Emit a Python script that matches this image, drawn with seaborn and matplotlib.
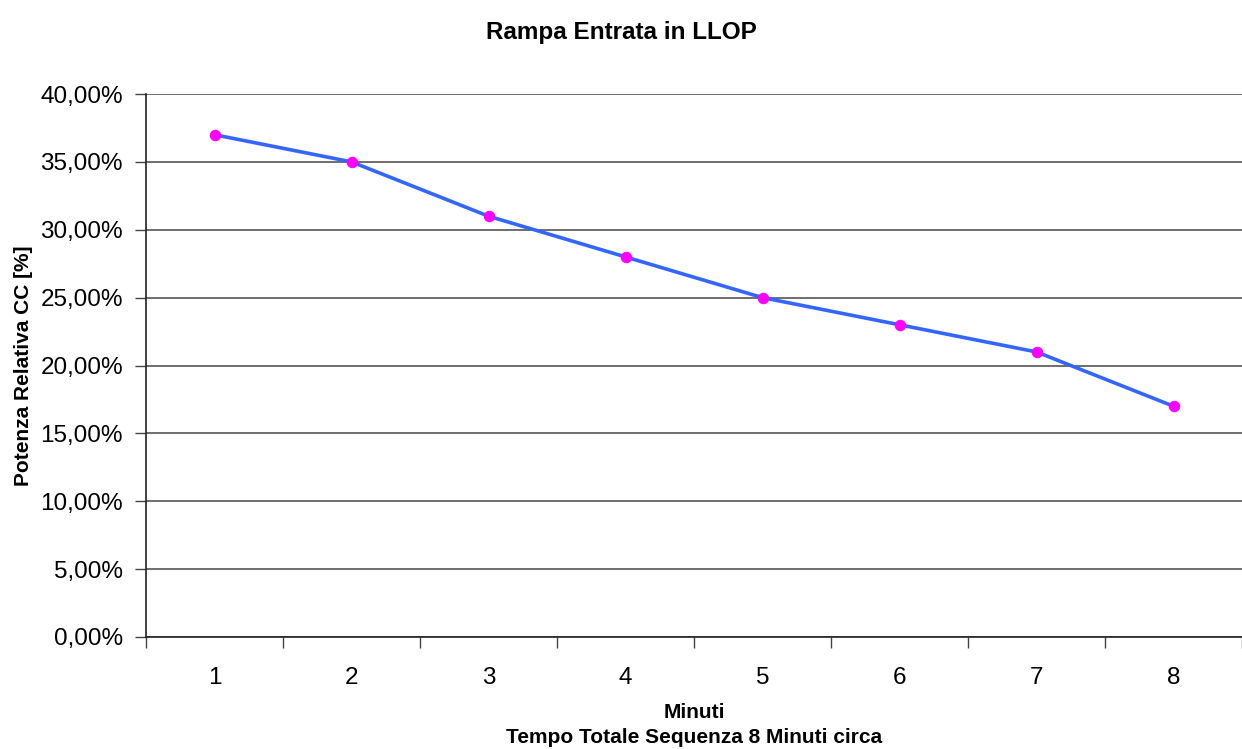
import matplotlib
matplotlib.use("Agg")
import matplotlib.pyplot as plt
import matplotlib.ticker as mticker
import seaborn as sns
import pandas as pd

minutes = [1, 2, 3, 4, 5, 6, 7, 8]
potenza = [0.37, 0.35, 0.31, 0.28, 0.25, 0.23, 0.21, 0.17]
title = "Rampa Entrata in LLOP"
xlabel = "Minuti\nTempo Totale Sequenza 8 Minuti circa"
ylabel = "Potenza Relativa CC [%]"

sns.set_style("white")
plt.rcParams['font.family'] = ['Liberation Sans', 'DejaVu Sans']
plt.rcParams['text.color'] = 'black'
plt.rcParams['axes.labelcolor'] = 'black'
plt.rcParams['xtick.color'] = 'black'
plt.rcParams['ytick.color'] = 'black'

df = pd.DataFrame({"Minuti": minutes, "Potenza": potenza})

fig = plt.figure(figsize=(12.42, 7.49), dpi=100)
ax = fig.add_axes([146/1242, 1-637/749, 1-146/1242, (637-94)/749])

sns.lineplot(data=df, x="Minuti", y="Potenza", ax=ax, color="#3366FF", linewidth=2.6,
             marker="o", markersize=7.5, markerfacecolor="#FF00FF", markeredgecolor="#FF00FF")

ax.set_xlim(0.5, 8.5)
ax.set_ylim(0, 0.40)
ax.set_xticks(minutes)
ax.set_xticks([m + 0.5 for m in [0] + minutes], minor=True)
ax.set_yticks([i * 0.05 for i in range(9)])
ax.yaxis.set_major_formatter(mticker.FuncFormatter(lambda v, p: f"{v*100:.2f}%".replace(".", ",")))
ax.tick_params(axis="x", which="major", length=0, labelsize=17.5, pad=21.5, labelcolor="black")
ax.tick_params(axis="x", which="minor", length=8, width=1, color="#444444", direction="out", bottom=True)
ax.tick_params(axis="y", which="major", length=8, width=1, color="#444444", direction="out", left=True,
               labelsize=17.5, pad=8.6, labelcolor="black")
ax.grid(axis="y", color="#555555", linewidth=1.2)
ax.set_axisbelow(True)
for s in ["top", "right"]:
    ax.spines[s].set_visible(False)
ax.spines["left"].set_color("#222222")
ax.spines["bottom"].set_color("#222222")
ax.spines["left"].set_linewidth(1.2)
ax.spines["bottom"].set_linewidth(1.2)

ax.set_xlabel(xlabel, fontsize=15, fontweight="bold", labelpad=10, linespacing=1.4)
ax.set_ylabel(ylabel, fontsize=15, fontweight="bold", labelpad=10)
ax.yaxis.set_label_coords(-113/1096, 0.5)
fig.suptitle(title, fontsize=17.5, fontweight="bold", y=1-33/749, va="center")

fig.savefig("out.png", dpi=100)
